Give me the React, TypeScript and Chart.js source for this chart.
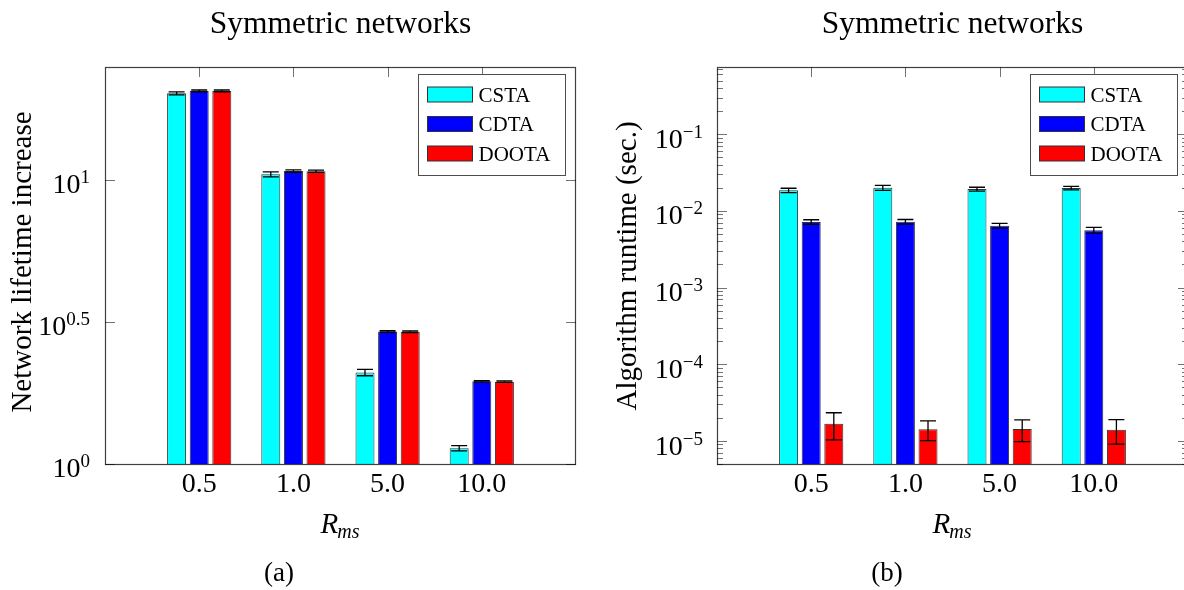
import React, { useEffect, useRef } from 'react';
import { Chart, registerables } from 'chart.js';

Chart.register(...registerables);

// ---------------- data ----------------
const categories = ['0.5', '1.0', '5.0', '10.0'];
const seriesNames = ['CSTA', 'CDTA', 'DOOTA'];
const seriesColors = ['#00FFFF', '#0000FF', '#FF0000'];

// (a) Network lifetime increase
const lifetimeCSTA = [20.2, 10.47, 2.1, 1.136];
const lifetimeCDTA = [20.6, 10.75, 2.93, 1.955];
const lifetimeDOOTA = [20.6, 10.74, 2.92, 1.95];
const lifetimeErrCSTA = [0.25, 0.21, 0.055, 0.024];
const lifetimeErrCDTA = [0.15, 0.1, 0.02, 0.012];
const lifetimeErrDOOTA = [0.15, 0.1, 0.02, 0.012];
const lifetimeTickExponents = [0, 0.5, 1];
const lifetimeTickLabels = ['0', '0.5', '1'];

// (b) Algorithm runtime (sec.)
const runtimeCSTA = [0.0185, 0.02, 0.0192, 0.0198];
const runtimeCDTA = [0.00715, 0.0072, 0.0064, 0.00557];
const runtimeDOOTA = [1.68e-5, 1.42e-5, 1.43e-5, 1.4e-5];
const runtimeErrCSTA = [0.0012, 0.0015, 0.0011, 0.001];
const runtimeErrCDTA = [0.0005, 0.0005, 0.00045, 0.0005];
const runtimeErrDOOTA = [0.65e-5, 0.41e-5, 0.45e-5, 0.49e-5];
const runtimeTickExponents = [-5, -4, -3, -2, -1];
const runtimeTickLabels = ['\u22125', '\u22124', '\u22123', '\u22122', '\u22121'];

// ---------------- style ----------------
const SERIF = '"Liberation Serif", "Times New Roman", serif';
const TITLE_FONT = `31.5px ${SERIF}`;
const LABEL_SIZE = 29;
const TICK_SIZE = 28;
const SUP_SIZE = 19;
const LEGEND_FONT = `21px ${SERIF}`;
const CAPTION_FONT = `27px ${SERIF}`;
const MAJOR = 10;
const MINOR = 6;
const TICK_COLOR = 'rgba(0,0,0,0.55)';
const FRAME_COLOR = 'rgba(0,0,0,0.75)';
const BAR_BORDER = '#333333';
const CANVAS_H = 590;
const PLOT_TOP = 67;
const PLOT_BOTTOM = 464;

type Spec = {
  id: string;
  title: string;
  values: number[][];
  errors: number[][];
  yMin: number;
  yMax: number;
  tickExponents: number[];
  tickLabels: string[];
  minorTicks: boolean;
  yLabel: string;
  caption: string;
  canvasWidth: number;
  plotLeft: number;
  padRight: number;
  yLabelX: number;
  yLabelY: number;
  tickLabelGap: number;
  tickLabelDy: number;
  captionX: number;
};

const leftSpec: Spec = {
  id: 'a',
  title: 'Symmetric networks',
  values: [lifetimeCSTA, lifetimeCDTA, lifetimeDOOTA],
  errors: [lifetimeErrCSTA, lifetimeErrCDTA, lifetimeErrDOOTA],
  yMin: 1,
  yMax: 25,
  tickExponents: lifetimeTickExponents,
  tickLabels: lifetimeTickLabels,
  minorTicks: false,
  yLabel: 'Network lifetime increase',
  caption: '(a)',
  canvasWidth: 592,
  plotLeft: 105,
  padRight: 16,
  yLabelX: 31,
  yLabelY: 262,
  tickLabelGap: 15,
  tickLabelDy: 3,
  captionX: 279,
};

const rightSpec: Spec = {
  id: 'b',
  title: 'Symmetric networks',
  values: [runtimeCSTA, runtimeCDTA, runtimeDOOTA],
  errors: [runtimeErrCSTA, runtimeErrCDTA, runtimeErrDOOTA],
  yMin: 5e-6,
  yMax: 0.75,
  tickExponents: runtimeTickExponents,
  tickLabels: runtimeTickLabels,
  minorTicks: true,
  yLabel: 'Algorithm runtime (sec.)',
  caption: '(b)',
  canvasWidth: 600,
  plotLeft: 125,
  padRight: 4,
  yLabelX: 44,
  yLabelY: 266,
  tickLabelGap: 14,
  tickLabelDy: 4,
  captionX: 295,
};

function pad<T>(arr: T[]): (T | null)[] {
  return [null, ...arr, null];
}

function buildYTicks(spec: Spec) {
  const ticks: { value: number; major: boolean }[] = [];
  if (!spec.minorTicks) {
    spec.tickExponents.forEach((e) => ticks.push({ value: Math.pow(10, e), major: true }));
    return ticks;
  }
  const lo = Math.floor(Math.log10(spec.yMin));
  const hi = Math.ceil(Math.log10(spec.yMax));
  for (let e = lo; e <= hi; e++) {
    for (let k = 1; k <= 9; k++) {
      const v = k * Math.pow(10, e);
      if (v >= spec.yMin * 0.999 && v <= spec.yMax * 1.001) {
        ticks.push({ value: v, major: k === 1 });
      }
    }
  }
  return ticks;
}

function makePlugin(spec: Spec) {
  return {
    id: 'decor' + spec.id,
    beforeDatasetsDraw(chart: any) {
      const ctx = chart.ctx;
      const ca = chart.chartArea;
      const xs = chart.scales.x;
      const ys = chart.scales.y;
      const labels = chart.data.labels as string[];
      ctx.save();
      ctx.strokeStyle = TICK_COLOR;
      ctx.lineWidth = 1;
      ctx.beginPath();
      xs.ticks.forEach((_t: any, i: number) => {
        if (!labels[i]) return;
        const x = Math.round(xs.getPixelForTick(i)) + 0.5;
        ctx.moveTo(x, ca.top);
        ctx.lineTo(x, ca.top + MAJOR);
        ctx.moveTo(x, ca.bottom);
        ctx.lineTo(x, ca.bottom - MAJOR);
      });
      ys.ticks.forEach((t: any) => {
        const y = Math.round(ys.getPixelForValue(t.value)) + 0.5;
        const len = t.major ? MAJOR : MINOR;
        ctx.moveTo(ca.left, y);
        ctx.lineTo(ca.left + len, y);
        ctx.moveTo(ca.right, y);
        ctx.lineTo(ca.right - len, y);
      });
      ctx.stroke();
      ctx.restore();
    },
    afterDatasetsDraw(chart: any) {
      const ctx = chart.ctx;
      const ca = chart.chartArea;
      const ys = chart.scales.y;
      ctx.save();
      // error bars
      ctx.strokeStyle = '#000';
      ctx.lineWidth = 1.3;
      chart.data.datasets.forEach((ds: any, di: number) => {
        const meta = chart.getDatasetMeta(di);
        meta.data.forEach((bar: any, i: number) => {
          const v = ds.data[i];
          const e = ds.errors[i];
          if (v == null || e == null) return;
          const x = bar.x;
          const yt = ys.getPixelForValue(v + e);
          const yb = ys.getPixelForValue(v - e);
          ctx.beginPath();
          ctx.moveTo(x, yt);
          ctx.lineTo(x, yb);
          ctx.moveTo(x - 8, yt);
          ctx.lineTo(x + 8, yt);
          ctx.moveTo(x - 8, yb);
          ctx.lineTo(x + 8, yb);
          ctx.stroke();
        });
      });
      // frame
      ctx.strokeStyle = FRAME_COLOR;
      ctx.lineWidth = 1.2;
      ctx.strokeRect(ca.left + 0.5, ca.top + 0.5, ca.right - ca.left - 1, ca.bottom - ca.top);
      ctx.restore();
    },
    afterDraw(chart: any) {
      const ctx = chart.ctx;
      const ca = chart.chartArea;
      const ys = chart.scales.y;
      const cx = (ca.left + ca.right) / 2;
      ctx.save();
      ctx.fillStyle = '#000';

      // legend
      const bw = 147;
      const bh = 101;
      const bx = ca.right - 11 - bw;
      const by = ca.top + 7;
      ctx.fillStyle = '#fff';
      ctx.fillRect(bx, by, bw, bh);
      ctx.strokeStyle = 'rgba(0,0,0,0.7)';
      ctx.lineWidth = 1;
      ctx.strokeRect(Math.round(bx) + 0.5, Math.round(by) + 0.5, bw, bh);
      ctx.font = LEGEND_FONT;
      ctx.textAlign = 'left';
      ctx.textBaseline = 'alphabetic';
      chart.data.datasets.forEach((ds: any, i: number) => {
        const cy = by + 20.5 + i * 29.5;
        ctx.fillStyle = ds.backgroundColor;
        ctx.fillRect(bx + 9, cy - 7.5, 45, 15);
        ctx.strokeStyle = BAR_BORDER;
        ctx.strokeRect(bx + 9 + 0.5, cy - 7.5, 45, 15);
        ctx.fillStyle = '#000';
        ctx.fillText(ds.label, bx + 60.5, cy + 7);
      });

      // title
      ctx.font = TITLE_FONT;
      ctx.textAlign = 'center';
      ctx.fillText(spec.title, cx, 33);

      // y tick labels with superscripts
      spec.tickExponents.forEach((e, k) => {
        const y = ys.getPixelForValue(Math.pow(10, e));
        const sup = spec.tickLabels[k];
        ctx.font = `${SUP_SIZE}px ${SERIF}`;
        const wSup = ctx.measureText(sup).width;
        ctx.font = `${TICK_SIZE}px ${SERIF}`;
        const wBase = ctx.measureText('10').width;
        const xr = ca.left - spec.tickLabelGap;
        const base = y + spec.tickLabelDy + 9.6;
        ctx.textAlign = 'left';
        ctx.fillText('10', xr - wSup - wBase, base);
        ctx.font = `${SUP_SIZE}px ${SERIF}`;
        ctx.fillText(sup, xr - wSup, base - 10);
      });

      // y axis label
      ctx.save();
      ctx.translate(spec.yLabelX, spec.yLabelY);
      ctx.rotate(-Math.PI / 2);
      ctx.font = `${LABEL_SIZE}px ${SERIF}`;
      ctx.textAlign = 'center';
      ctx.fillText(spec.yLabel, 0, 0);
      ctx.restore();

      // x axis label R_ms
      ctx.font = `italic ${LABEL_SIZE}px ${SERIF}`;
      const wR = ctx.measureText('R').width;
      ctx.font = `italic 20px ${SERIF}`;
      const wS = ctx.measureText('ms').width;
      const x0 = cx - (wR + wS) / 2;
      ctx.textAlign = 'left';
      ctx.font = `italic ${LABEL_SIZE}px ${SERIF}`;
      ctx.fillText('R', x0, 533);
      ctx.font = `italic 20px ${SERIF}`;
      ctx.fillText('ms', x0 + wR - 1, 538);

      // caption
      ctx.font = CAPTION_FONT;
      ctx.textAlign = 'center';
      ctx.fillText(spec.caption, spec.captionX, 581);
      ctx.restore();
    },
  };
}

function makeConfig(spec: Spec): any {
  const yTicks = buildYTicks(spec);
  return {
    type: 'bar',
    data: {
      labels: ['', ...categories, ''],
      datasets: spec.values.map((vals, i) => ({
        label: seriesNames[i],
        data: pad(vals),
        errors: pad(spec.errors[i]),
        backgroundColor: seriesColors[i],
        borderColor: BAR_BORDER,
        borderWidth: 1,
        categoryPercentage: 0.72,
        barPercentage: 0.84,
      })),
    },
    options: {
      responsive: false,
      animation: false,
      devicePixelRatio: 1,
      layout: { padding: { left: 0, top: PLOT_TOP, right: spec.padRight, bottom: 0 } },
      plugins: {
        legend: { display: false },
        title: { display: false },
        tooltip: { enabled: false },
      },
      scales: {
        x: {
          type: 'category',
          offset: false,
          grid: { display: false, drawTicks: false },
          border: { display: false },
          ticks: {
            autoSkip: false,
            maxRotation: 0,
            padding: 4,
            color: '#000',
            font: { family: SERIF, size: TICK_SIZE, lineHeight: 1.2 },
          },
          afterFit: (scale: any) => {
            scale.height = CANVAS_H - PLOT_BOTTOM;
          },
        },
        y: {
          type: 'logarithmic',
          min: spec.yMin,
          max: spec.yMax,
          grid: { display: false, drawTicks: false },
          border: { display: false },
          ticks: { display: false },
          afterBuildTicks: (scale: any) => {
            scale.ticks = yTicks.map((t) => ({ value: t.value, major: t.major }));
          },
          afterFit: (scale: any) => {
            scale.width = spec.plotLeft;
          },
        },
      },
    },
    plugins: [makePlugin(spec)],
  };
}

function ChartPanel({ spec, left }: { spec: Spec; left: number }) {
  const ref = useRef<HTMLCanvasElement | null>(null);
  useEffect(() => {
    if (!ref.current) return;
    const chart = new Chart(ref.current, makeConfig(spec));
    return () => chart.destroy();
  }, [spec]);
  return (
    <canvas
      ref={ref}
      width={spec.canvasWidth}
      height={CANVAS_H}
      style={{
        position: 'absolute',
        left,
        top: 0,
        width: spec.canvasWidth,
        height: CANVAS_H,
        display: 'block',
      }}
    />
  );
}

export default function App() {
  return (
    <div
      style={{
        position: 'absolute',
        left: 0,
        top: 0,
        width: 1184,
        height: 590,
        overflow: 'hidden',
        background: '#fff',
      }}
    >
      <ChartPanel spec={leftSpec} left={0} />
      <ChartPanel spec={rightSpec} left={592} />
    </div>
  );
}
